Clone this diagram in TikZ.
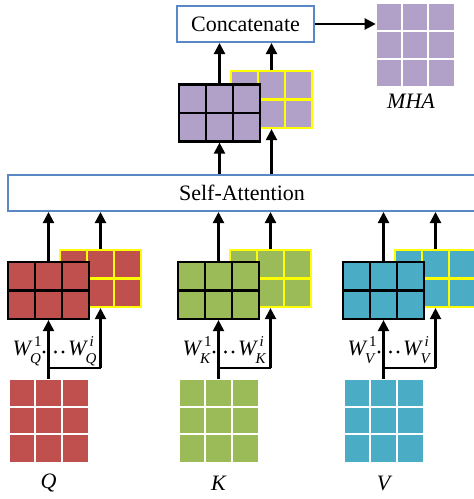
\documentclass[tikz,border=0pt]{standalone}
\usepackage{fontspec}
\setmainfont{Liberation Serif}
\usetikzlibrary{arrows.meta,calc}
\definecolor{cred}{HTML}{C0504D}
\definecolor{cgreen}{HTML}{9BBB59}
\definecolor{cteal}{HTML}{4BACC6}
\definecolor{cpurple}{HTML}{B1A0C7}
\definecolor{cblue}{HTML}{5A88C4}
\definecolor{cyel}{HTML}{FFFF00}
\newcommand{\wlab}[2]{{\fontsize{22}{22}\selectfont\textit{W}}\rlap{\hspace{1.5pt}\raisebox{9pt}{\fontsize{15}{15}\selectfont #2}}\hspace{-2.5pt}\raisebox{-8pt}{\fontsize{15}{15}\selectfont\textit{#1}}}
\tikzset{
  matnode/.style 2 args={rectangle, minimum width=81pt, minimum height=57pt, inner sep=0pt,
    fill=#1, draw=#2, line width=2.2pt,
    path picture={
      \draw[#2, line width=2.2pt]
        ($(path picture bounding box.north west)!1/3!(path picture bounding box.north east)$) --
        ($(path picture bounding box.south west)!1/3!(path picture bounding box.south east)$)
        ($(path picture bounding box.north west)!2/3!(path picture bounding box.north east)$) --
        ($(path picture bounding box.south west)!2/3!(path picture bounding box.south east)$)
        (path picture bounding box.west) -- (path picture bounding box.east);
    }},
  gridnode/.style={rectangle, minimum width=79pt, minimum height=83pt, inner sep=0pt,
    fill=#1, draw=white, line width=0.6pt,
    path picture={
      \draw[white, line width=1.8pt]
        ($(path picture bounding box.north west)!1/3!(path picture bounding box.north east)$) --
        ($(path picture bounding box.south west)!1/3!(path picture bounding box.south east)$)
        ($(path picture bounding box.north west)!2/3!(path picture bounding box.north east)$) --
        ($(path picture bounding box.south west)!2/3!(path picture bounding box.south east)$)
        ($(path picture bounding box.north west)!1/3!(path picture bounding box.south west)$) --
        ($(path picture bounding box.north east)!1/3!(path picture bounding box.south east)$)
        ($(path picture bounding box.north west)!2/3!(path picture bounding box.south west)$) --
        ($(path picture bounding box.north east)!2/3!(path picture bounding box.south east)$);
    }},
  bluebox/.style={rectangle, draw=cblue, line width=2pt, fill=white, inner sep=0pt,
    font=\fontsize{22}{26}\selectfont},
  arr/.style={draw=black, line width=2.2pt, -{Triangle[length=11pt,width=11pt]}},
  ln/.style={draw=black, line width=2.2pt},
  lab/.style={font=\fontsize{22}{26}\selectfont\itshape, inner sep=0pt}
}
\begin{document}
\begin{tikzpicture}[x=1pt,y=-1pt]
\useasboundingbox (0,0) rectangle (474,499);
\clip (0,0) rectangle (474,499);
% top
\node[bluebox, minimum width=137pt, minimum height=36pt] (cc) at (245.5,24) {Concatenate};
\node[gridnode=cpurple, minimum width=78pt, minimum height=83pt] (mha) at (415,45) {};
\node[lab] (mhal) at (411,101) {MHA};
\draw[arr] (cc.east) -- (cc.east -| mha.west);
\node[matnode={cpurple}{cyel}] (ty) at (271.5,99.5) {};
\node[matnode={cpurple}{black}] (tb) at (219.5,113) {};
\node[bluebox, minimum width=468pt, minimum height=36pt] (sa) at (242,193) {Self-Attention};
\draw[arr] (tb.north) -- (tb.north |- cc.south);
\draw[arr] (ty.north) -- (ty.north |- cc.south);
\draw[arr] (tb.south |- sa.north) -- (tb.south);
\draw[arr] (ty.south |- sa.north) -- (ty.south);
% groups
\foreach \g/\dx/\c in {Q/0/cred, K/170/cgreen, V/335/cteal}{
  \node[matnode={\c}{cyel}] (y\g) at (100.5+\dx,278.5) {};
  \node[matnode={\c}{black}] (b\g) at (48.5+\dx,290.5) {};
  \node[gridnode=\c] (in\g) at (48.5+\dx,420.5) {};
  \node[lab] (l\g) at (48.5+\dx,483) {\g};
  \coordinate (br\g) at (48.5+\dx,368);
  \draw[arr] (b\g.north) -- (b\g.north |- sa.south);
  \draw[arr] (y\g.north) -- (y\g.north |- sa.south);
  \draw[arr] (in\g.north) -- (b\g.south);
  \draw[ln] (br\g) -- (br\g -| y\g.south);
  \draw[arr] (br\g -| y\g.south) -- (y\g.south);
  \node[anchor=base west, inner sep=0pt] (wa\g) at (12.5+\dx,355) {\wlab{\g}{1}};
  \node[anchor=base west, inner sep=0pt] (wb\g) at (68+\dx,355) {\wlab{\g}{\textit{i}}};
  \fill (44+\dx,352) circle (1.6) (55.5+\dx,352) circle (1.6) (63+\dx,352) circle (1.6);
}
\end{tikzpicture}
\end{document}
